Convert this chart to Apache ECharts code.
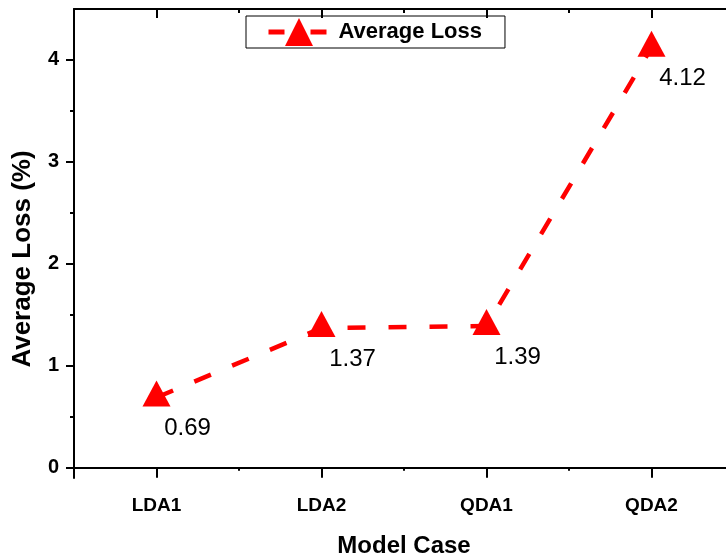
<!DOCTYPE html>
<html>
<head>
<meta charset="utf-8">
<script src="https://cdn.jsdelivr.net/npm/echarts@6/dist/echarts.min.js"></script>
<style>
html,body{margin:0;padding:0;background:#fff;}
#chart{width:726px;height:560px;}
</style>
</head>
<body>
<div id="chart"></div>
<script>
var categories = ['LDA1', 'LDA2', 'QDA1', 'QDA2'];
var lossValues = [0.69, 1.37, 1.39, 4.12];
var yTickValues = [0, 1, 2, 3, 4];
var yMinorTickValues = [0.5, 1.5, 2.5, 3.5];
var seriesName = 'Average Loss';

var FONT = "'Liberation Sans', Arial, sans-serif";
var chart = echarts.init(document.getElementById('chart'), null, {renderer: 'canvas'});

function catAxis(pos, opts) {
  var base = {
    type: 'category',
    data: categories,
    position: pos,
    boundaryGap: true,
    axisLine: {show: false, lineStyle: {color: '#000', width: 2}},
    axisTick: {show: true, lineStyle: {color: '#000', width: 2}},
    axisLabel: {show: false},
    splitLine: {show: false}
  };
  return echarts.util.merge(base, opts, true);
}

var option = {
  animation: false,
  backgroundColor: '#fff',
  grid: {left: 74, top: 9, right: -8, bottom: 82, containLabel: false, outerBoundsMode: 'none'},
  legend: {
    data: [seriesName],
    left: 246,
    top: 16,
    padding: [2, 23, 2, 20],
    itemWidth: 61,
    itemHeight: 35,
    borderColor: '#000',
    borderWidth: 1,
    lineStyle: {width: 5, color: '#ff0000', type: [16, 26]},
    textStyle: {color: '#000', fontFamily: FONT, fontWeight: 'bold', fontSize: 22, padding: [0, 0, 0, 4]}
  },
  xAxis: [
    catAxis('bottom', {
      axisLine: {show: true},
      axisTick: {alignWithLabel: true, length: 10},
      axisLabel: {show: true, color: '#000', fontFamily: FONT, fontWeight: 'bold', fontSize: 19, margin: 18},
      name: 'Model Case',
      nameLocation: 'middle',
      nameGap: 56,
      nameTextStyle: {color: '#000', fontFamily: FONT, fontWeight: 'bold', fontSize: 24}
    }),
    catAxis('bottom', {axisTick: {alignWithLabel: false, length: 3}}),
    catAxis('top', {axisLine: {show: true}, axisTick: {alignWithLabel: true, inside: true, length: 9}}),
    catAxis('top', {axisTick: {alignWithLabel: false, inside: true, length: 4}})
  ],
  yAxis: [
    {
      type: 'value',
      min: -0.1,
      max: 4.5,
      position: 'left',
      axisLine: {show: true, lineStyle: {color: '#000', width: 2}},
      axisTick: {show: true, length: 8, customValues: yTickValues, lineStyle: {color: '#000', width: 2}},
      axisLabel: {show: true, customValues: yTickValues, color: '#000', fontFamily: FONT, fontWeight: 'bold', fontSize: 20, margin: 15},
      splitLine: {show: false},
      name: 'Average Loss (%)',
      nameLocation: 'middle',
      nameGap: 38,
      nameTextStyle: {color: '#000', fontFamily: FONT, fontWeight: 'bold', fontSize: 26, padding: [0, 31, 0, 0]}
    },
    {
      type: 'value',
      min: -0.1,
      max: 4.5,
      position: 'left',
      axisLine: {show: false},
      axisTick: {show: true, length: 4, customValues: yMinorTickValues, lineStyle: {color: '#000', width: 2}},
      axisLabel: {show: false},
      splitLine: {show: false}
    }
  ],
  series: [
    {
      name: seriesName,
      type: 'line',
      xAxisIndex: 0,
      yAxisIndex: 0,
      data: lossValues,
      symbol: 'triangle',
      symbolSize: [28, 26],
      symbolOffset: [0, -4],
      itemStyle: {color: '#ff0000'},
      lineStyle: {color: '#ff0000', width: 4.5, type: [18, 23]},
      label: {
        show: true,
        position: 'inside',
        offset: [31, 35],
        color: '#000',
        fontFamily: FONT,
        fontSize: 24,
        formatter: function (p) { return p.value.toFixed(2); }
      }
    }
  ]
};
chart.setOption(option);
</script>
</body>
</html>
